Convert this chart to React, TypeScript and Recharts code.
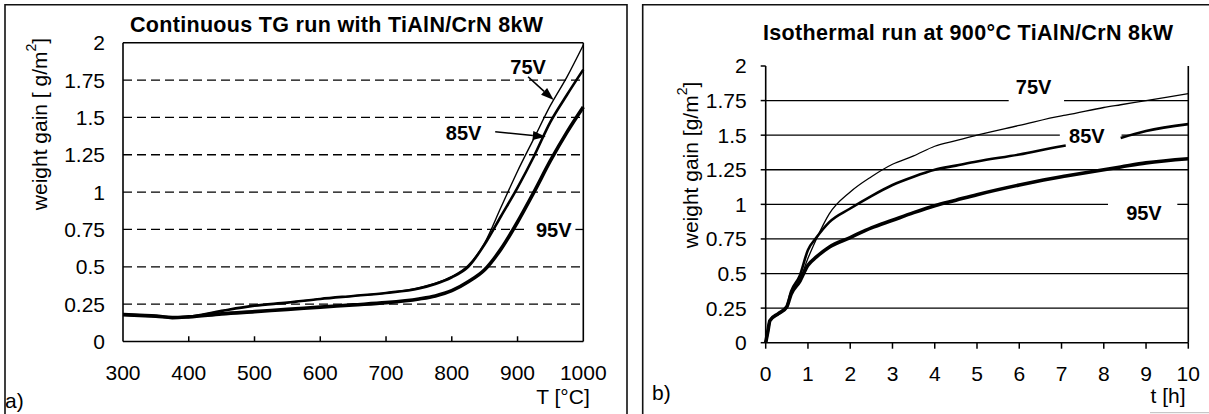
import React from "react";
import { LineChart, Line, XAxis, YAxis, ReferenceLine, ReferenceDot } from "recharts";

// ---- panel a) continuous TG run ----
const tempC = [300, 325, 350, 375, 400, 450, 500, 550, 600, 650, 700, 750, 775, 800, 825, 850, 875, 900, 925, 950, 975, 1000];
const tg75V = [0.18, 0.175, 0.17, 0.16, 0.165, 0.205, 0.24, 0.26, 0.285, 0.305, 0.325, 0.36, 0.39, 0.435, 0.51, 0.66, 0.9, 1.14, 1.36, 1.58, 1.77, 1.985];
const tg85V = [0.18, 0.175, 0.17, 0.16, 0.165, 0.205, 0.24, 0.26, 0.285, 0.305, 0.325, 0.355, 0.385, 0.43, 0.5, 0.65, 0.84, 1.03, 1.24, 1.47, 1.65, 1.82];
const tg95V = [0.18, 0.175, 0.17, 0.16, 0.165, 0.185, 0.2, 0.215, 0.23, 0.245, 0.26, 0.285, 0.305, 0.34, 0.4, 0.48, 0.62, 0.8, 1.0, 1.21, 1.4, 1.57];
const tempTicks = [300, 400, 500, 600, 700, 800, 900, 1000];

// ---- panel b) isothermal run at 900°C ----
const hours = [0, 0.05, 0.1, 0.3, 0.5, 0.6, 0.8, 1, 1.2, 1.5, 2, 2.5, 3, 3.5, 4, 4.5, 5, 6, 7, 7.1, 8, 8.4, 9, 10];
const iso75V = [0, 0.08, 0.16, 0.21, 0.26, 0.36, 0.45, 0.61, 0.75, 0.93, 1.09, 1.2, 1.29, 1.35, 1.42, 1.46, 1.5, 1.57, 1.64, 1.645, 1.7, 1.72, 1.75, 1.8];
const iso85V = [0, 0.08, 0.16, 0.21, 0.26, 0.37, 0.48, 0.67, 0.76, 0.87, 0.97, 1.06, 1.14, 1.2, 1.25, 1.28, 1.31, 1.36, 1.42, 1.425, null, 1.48, 1.53, 1.58];
const iso95V = [0, 0.08, 0.16, 0.21, 0.26, 0.35, 0.44, 0.56, 0.62, 0.69, 0.76, 0.83, 0.885, 0.94, 0.99, 1.03, 1.07, 1.14, 1.2, 1.205, 1.25, 1.27, 1.3, 1.33];
const hourTicks = [0, 1, 2, 3, 4, 5, 6, 7, 8, 9, 10];

const gainTicks = [0, 0.25, 0.5, 0.75, 1, 1.25, 1.5, 1.75, 2];
const gridValues = [0.25, 0.5, 0.75, 1, 1.25, 1.5, 1.75];

// gridline gaps left behind the white label boxes (data units)
const leftGaps: Record<number, [number, number]> = { 0.75: [916, 988] };
const rightGaps: Record<number, [number, number]> = { 1.75: [5.75, 7.06], 1.5: [6.96, 8.42], 1: [8.1, 9.74] };

const FONT = "'Liberation Sans', Arial, Helvetica, sans-serif";
const tickStyle = { fill: "#000", fontSize: 21, fontFamily: FONT };

const leftData = tempC.map((t, i) => ({ T: t, v75: tg75V[i], v85: tg85V[i], v95: tg95V[i] }));
const rightData = hours.map((t, i) => ({ t, v75: iso75V[i], v85: iso85V[i], v95: iso95V[i] }));

function gridSegments(lo: number, hi: number, gaps: Record<number, [number, number]>) {
  const out: { y: number; a: number; b: number }[] = [];
  for (const v of gridValues) {
    const g = gaps[v];
    if (g) {
      out.push({ y: v, a: lo, b: g[0] });
      out.push({ y: v, a: g[1], b: hi });
    } else out.push({ y: v, a: lo, b: hi });
  }
  return out;
}

function Arrow(props: any) {
  const { x1, y1, x2, y2 } = props;
  const ang = Math.atan2(y2 - y1, x2 - x1);
  const len = 13;
  const half = 4.5;
  const bx = x2 - len * Math.cos(ang);
  const by = y2 - len * Math.sin(ang);
  const px = -Math.sin(ang) * half;
  const py = Math.cos(ang) * half;
  return (
    <g>
      <line x1={x1} y1={y1} x2={bx} y2={by} stroke="#000" strokeWidth={1.6} />
      <polygon points={`${x2},${y2} ${bx + px},${by + py} ${bx - px},${by - py}`} fill="#000" />
    </g>
  );
}

const tag = (text: string) => (p: any) => (
  <text
    x={p.cx}
    y={p.cy}
    textAnchor="middle"
    dominantBaseline="central"
    fontFamily={FONT}
    fontSize={20}
    fontWeight="bold"
    fill="#000"
  >
    {text}
  </text>
);

export default function App() {
  const axisLine = { stroke: "#000", strokeWidth: 1.6 };
  return (
    <div style={{ position: "absolute", left: 0, top: 0, width: 1209, height: 414, background: "#fff", overflow: "hidden" }}>
      <div style={{ position: "absolute", left: 0, top: 0 }}>
        <LineChart width={627} height={414} data={leftData} margin={{ top: 42.7, right: 43.7, bottom: 42.5, left: 0 }}>
          <XAxis
            dataKey="T"
            type="number"
            domain={[300, 1000]}
            ticks={tempTicks}
            interval={0}
            tickLine={false}
            tickSize={0}
            tickMargin={24}
            height={30}
            axisLine={axisLine}
            tick={tickStyle}
          />
          <YAxis
            type="number"
            domain={[0, 2]}
            ticks={gainTicks}
            interval={0}
            tickLine={false}
            tickSize={0}
            tickMargin={18}
            width={123}
            axisLine={axisLine}
            tick={tickStyle}
          />
          {gridSegments(300, 1000, leftGaps).map((s, i) => (
            <ReferenceLine
              key={`lg${i}`}
              segment={[{ x: s.a, y: s.y }, { x: s.b, y: s.y }]}
              stroke="#000"
              strokeWidth={1.3}
              strokeDasharray="9 5"
            />
          ))}
          {tempTicks.slice(1, -1).map((t) => (
            <ReferenceLine key={`lt${t}`} segment={[{ x: t, y: 0 }, { x: t, y: 0.035 }]} stroke="#000" strokeWidth={1.5} />
          ))}
          <ReferenceLine y={2} stroke="#000" strokeWidth={1.6} />
          <ReferenceLine x={1000} stroke="#000" strokeWidth={1.6} />
          <Line type="monotone" dataKey="v75" stroke="#000" strokeWidth={1.4} dot={false} isAnimationActive={false} />
          <Line type="monotone" dataKey="v85" stroke="#000" strokeWidth={2.6} dot={false} isAnimationActive={false} />
          <Line type="monotone" dataKey="v95" stroke="#000" strokeWidth={3.6} dot={false} isAnimationActive={false} />
          <ReferenceLine segment={[{ x: 916, y: 1.772 }, { x: 955, y: 1.616 }]} shape={Arrow} />
          <ReferenceLine segment={[{ x: 866, y: 1.404 }, { x: 943, y: 1.37 }]} shape={Arrow} />
          <ReferenceDot x={916} y={1.84} r={1} shape={tag("75V")} />
          <ReferenceDot x={818} y={1.394} r={1} shape={tag("85V")} />
          <ReferenceDot x={955} y={0.746} r={1} shape={tag("95V")} />
        </LineChart>
      </div>

      <div style={{ position: "absolute", left: 640, top: 0 }}>
        <LineChart width={569} height={414} data={rightData} margin={{ top: 66, right: 20.7, bottom: 41.3, left: 0 }}>
          <XAxis
            dataKey="t"
            type="number"
            domain={[0, 10]}
            ticks={hourTicks}
            interval={0}
            tickSize={6}
            tickMargin={17}
            height={30}
            axisLine={axisLine}
            tickLine={{ stroke: "#000", strokeWidth: 1.5 }}
            tick={tickStyle}
          />
          <YAxis
            type="number"
            domain={[0, 2]}
            ticks={gainTicks}
            interval={0}
            tickSize={5}
            tickMargin={14}
            width={125.7}
            axisLine={axisLine}
            tickLine={{ stroke: "#000", strokeWidth: 1.5 }}
            tick={tickStyle}
          />
          {gridSegments(0, 10, rightGaps).map((s, i) => (
            <ReferenceLine
              key={`rg${i}`}
              segment={[{ x: s.a, y: s.y }, { x: s.b, y: s.y }]}
              stroke="#000"
              strokeWidth={1.3}
            />
          ))}
          <ReferenceLine x={10} stroke="#000" strokeWidth={1.6} />
          <Line type="monotone" dataKey="v75" stroke="#000" strokeWidth={1.3} dot={false} isAnimationActive={false} />
          <Line type="monotone" dataKey="v85" stroke="#000" strokeWidth={2.6} dot={false} isAnimationActive={false} />
          <Line type="monotone" dataKey="v95" stroke="#000" strokeWidth={3.6} dot={false} isAnimationActive={false} />
          <ReferenceDot x={6.34} y={1.851} r={1} shape={tag("75V")} />
          <ReferenceDot x={7.6} y={1.495} r={1} shape={tag("85V")} />
          <ReferenceDot x={8.95} y={0.936} r={1} shape={tag("95V")} />
        </LineChart>
      </div>

      <svg width={1209} height={414} style={{ position: "absolute", left: 0, top: 0, pointerEvents: "none" }}>
        <g stroke="#111" strokeWidth={1.6} fill="none">
          <polyline points="5,414 5,4.7 627,4.7 627,414" />
          <polyline points="642.7,414 642.7,4.7 1209,4.7" />
          <line x1={1150} y1={412.7} x2={1209} y2={412.7} stroke="#bbb" strokeWidth={1} />
        </g>
        <g fontFamily={FONT} fill="#000">
          <text x={336.5} y={25} textAnchor="middle" dominantBaseline="central" fontSize={21.5} fontWeight="bold" textLength={413} lengthAdjust="spacing">
            Continuous TG run with TiAlN/CrN 8kW
          </text>
          <text x={968} y={33} textAnchor="middle" dominantBaseline="central" fontSize={21.5} fontWeight="bold" textLength={410} lengthAdjust="spacing">
            Isothermal run at 900°C TiAlN/CrN 8kW
          </text>
          <text transform="translate(39,124) rotate(-90)" textAnchor="middle" dominantBaseline="central" fontSize={21}>
            weight gain [ g/m<tspan dy={-8} fontSize={14}>2</tspan><tspan dy={8}>]</tspan>
          </text>
          <text transform="translate(690,165) rotate(-90)" textAnchor="middle" dominantBaseline="central" fontSize={21}>
            weight gain [g/m<tspan dy={-8} fontSize={14}>2</tspan><tspan dy={8}>]</tspan>
          </text>
          <text x={563} y={396} textAnchor="middle" dominantBaseline="central" fontSize={21}>
            T [°C]
          </text>
          <text x={1168} y={395} textAnchor="middle" dominantBaseline="central" fontSize={21}>
            t [h]
          </text>
          <text x={5} y={400} dominantBaseline="central" fontSize={21}>
            a)
          </text>
          <text x={652} y={392} dominantBaseline="central" fontSize={21}>
            b)
          </text>
        </g>
      </svg>
    </div>
  );
}
